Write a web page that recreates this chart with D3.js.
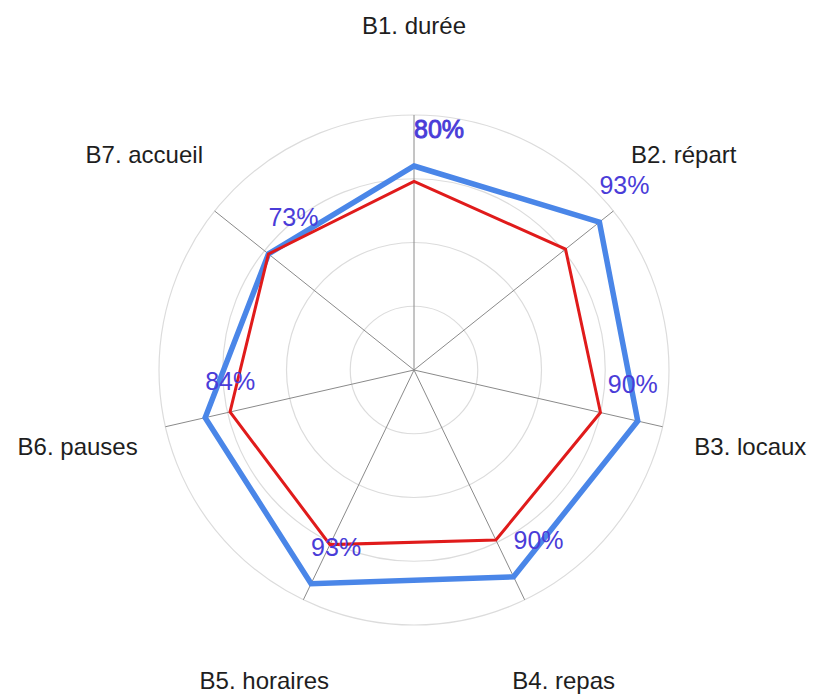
<!DOCTYPE html>
<html>
<head>
<meta charset="utf-8">
<script src="https://cdn.jsdelivr.net/npm/d3@7"></script>
<style>
html, body { margin: 0; padding: 0; background: #fff; }
svg { display: block; }
</style>
</head>
<body>
<svg id="chart" width="815" height="700"></svg>
<script>
const categories = ["B1. durée", "B2. répart", "B3. locaux", "B4. repas", "B5. horaires", "B6. pauses", "B7. accueil"];
const seriesBlue = [80, 93, 90, 90, 93, 84, 73];
const seriesRed = [74, 76, 75, 74, 76, 74, 73];
const valueLabels = ["80%", "93%", "90%", "90%", "93%", "84%", "73%"];
const gridLevels = [25, 50, 75, 100];

const W = 815, H = 700;
const cx = 414, cy = 370, R = 255;
const svg = d3.select("#chart");
const g = svg.append("g").attr("transform", `translate(${cx},${cy})`);

const r = d3.scaleLinear().domain([0, 100]).range([0, R]);
const angle = d3.scaleLinear().domain([0, categories.length]).range([0, 2 * Math.PI]);
const px = (i, v) => r(v) * Math.sin(angle(i));
const py = (i, v) => -r(v) * Math.cos(angle(i));

// grid rings
g.selectAll("circle.ring").data(gridLevels).join("circle")
  .attr("class", "ring")
  .attr("r", d => r(d))
  .attr("fill", "none")
  .attr("stroke", "#dcdcdc")
  .attr("stroke-width", 1.2);

// axes
g.selectAll("line.axis").data(categories).join("line")
  .attr("class", "axis")
  .attr("x1", 0).attr("y1", 0)
  .attr("x2", (d, i) => px(i, 100))
  .attr("y2", (d, i) => py(i, 100))
  .attr("stroke", "#8a8a8a")
  .attr("stroke-width", 1);

const radial = d3.lineRadial()
  .angle((d, i) => angle(i))
  .radius(d => r(d))
  .curve(d3.curveLinearClosed);

g.append("path").datum(seriesBlue)
  .attr("d", radial)
  .attr("fill", "none")
  .attr("stroke", "#4a86e8")
  .attr("stroke-width", 5.5)
  .attr("stroke-linejoin", "miter");

g.append("path").datum(seriesRed)
  .attr("d", radial)
  .attr("fill", "none")
  .attr("stroke", "#e01b1b")
  .attr("stroke-width", 3)
  .attr("stroke-linejoin", "miter");

// category labels
g.selectAll("text.cat").data(categories).join("text")
  .attr("class", "cat")
  .attr("x", (d, i) => 345 * Math.sin(angle(i)))
  .attr("y", (d, i) => -345 * Math.cos(angle(i)))
  .attr("text-anchor", "middle")
  .attr("dominant-baseline", "central")
  .attr("font-family", "'Liberation Sans', Arial, Helvetica, sans-serif")
  .attr("font-size", 24)
  .attr("fill", "#1e1e1e")
  .text(d => d);

// value labels (nudges are relative offsets)
const labelNudge = [0, 0, -30, 0, 0, 0, 0];
g.selectAll("text.val").data(valueLabels).join("text")
  .attr("class", "val")
  .attr("x", (d, i) => px(i, seriesBlue[i]) + labelNudge[i])
  .attr("y", (d, i) => py(i, seriesBlue[i]) - 28)
  .attr("text-anchor", "start")
  .attr("font-family", "'Liberation Sans', Arial, Helvetica, sans-serif")
  .attr("font-size", 25)
  .attr("fill", "#4a3cd8")
  .attr("stroke", (d, i) => i === 0 ? "#4a3cd8" : "none")
  .attr("stroke-width", 0.9)
  .text(d => d);
</script>
</body>
</html>
